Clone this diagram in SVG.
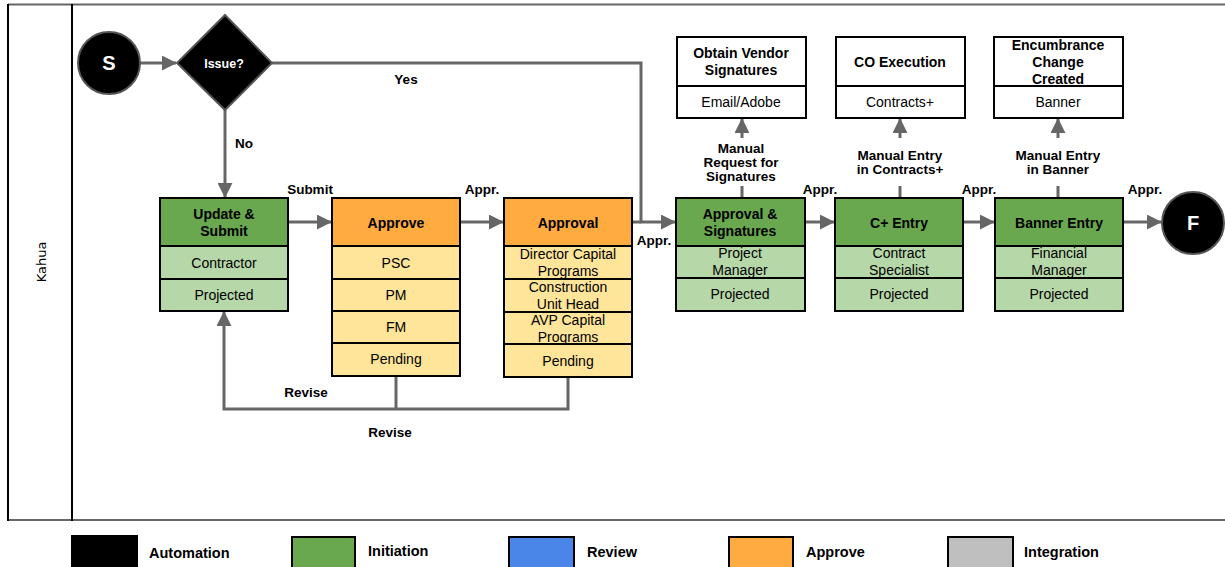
<svg xmlns="http://www.w3.org/2000/svg" width="1225" height="567" viewBox="0 0 1225 567">
<defs>
<style>
text{font-family:"Liberation Sans",Arial,sans-serif;fill:#000}
.b{font-weight:bold;font-size:14px}
.r{font-size:14px}
.l{font-weight:bold;font-size:13.5px}
.g{font-weight:bold;font-size:14.5px}
.w{fill:#fff;font-weight:bold}
.con{fill:none;stroke:#666;stroke-width:3}
.dg{fill:#6aa84f;stroke:#000;stroke-width:2}
.lg{fill:#b6d7a8;stroke:#000;stroke-width:2}
.or{fill:#ffab40;stroke:#000;stroke-width:2}
.ly{fill:#ffe599;stroke:#000;stroke-width:2}
.wh{fill:#fff;stroke:#000;stroke-width:2}
</style>
<marker id="ah" markerWidth="5" markerHeight="5" refX="4.7" refY="2.5" orient="auto" markerUnits="strokeWidth" viewBox="0 0 5 5">
<path d="M0,0 L5,2.5 L0,5 z" fill="#666"/>
</marker>
</defs>
<rect width="1225" height="567" fill="#fff"/>
<g id="lane">
<line x1="8" y1="4.5" x2="1225" y2="4.5" stroke="#666" stroke-width="2"/>
<line x1="8" y1="520" x2="1225" y2="520" stroke="#666" stroke-width="2"/>
<line x1="8" y1="4" x2="8" y2="521" stroke="#000" stroke-width="2"/>
<line x1="72" y1="4" x2="72" y2="521" stroke="#000" stroke-width="2"/>
<text transform="translate(46,262) rotate(-90)" text-anchor="middle" style="font-family:'DejaVu Sans',sans-serif;font-size:13px">Kahua</text>
</g>
<g id="connectors">
<line class="con" x1="140" y1="63" x2="176" y2="63" marker-end="url(#ah)"/>
<polyline class="con" points="272,63 641,63 641,222 675,222" marker-end="url(#ah)"/>
<line class="con" x1="225" y1="110" x2="225" y2="197" marker-end="url(#ah)"/>
<line class="con" x1="288" y1="222" x2="331" y2="222" marker-end="url(#ah)"/>
<line class="con" x1="460" y1="222" x2="503" y2="222" marker-end="url(#ah)"/>
<line class="con" x1="632" y1="222" x2="641" y2="222"/>
<line class="con" x1="805" y1="222" x2="834" y2="222" marker-end="url(#ah)"/>
<line class="con" x1="963" y1="222" x2="994" y2="222" marker-end="url(#ah)"/>
<line class="con" x1="1123" y1="222" x2="1161" y2="222" marker-end="url(#ah)"/>
<polyline class="con" points="396,376 396,409"/>
<polyline class="con" points="568,377 568,409 224,409 224,312" marker-end="url(#ah)"/>
<line class="con" x1="742" y1="198" x2="742" y2="186"/>
<line class="con" x1="742" y1="138" x2="742" y2="119" marker-end="url(#ah)"/>
<line class="con" x1="900" y1="198" x2="900" y2="186"/>
<line class="con" x1="900" y1="138" x2="900" y2="119" marker-end="url(#ah)"/>
<line class="con" x1="1058" y1="198" x2="1058" y2="186"/>
<line class="con" x1="1058" y1="138" x2="1058" y2="119" marker-end="url(#ah)"/>
<text class="l" x="406" y="84" text-anchor="middle">Yes</text>
<text class="l" x="244" y="148" text-anchor="middle">No</text>
<text class="l" x="310" y="194" text-anchor="middle">Submit</text>
<text class="l" x="482" y="194" text-anchor="middle">Appr.</text>
<text class="l" x="654" y="245" text-anchor="middle">Appr.</text>
<text class="l" x="820" y="194" text-anchor="middle">Appr.</text>
<text class="l" x="979" y="194" text-anchor="middle">Appr.</text>
<text class="l" x="1145" y="194" text-anchor="middle">Appr.</text>
<text class="l" x="306" y="397" text-anchor="middle">Revise</text>
<text class="l" x="390" y="437" text-anchor="middle">Revise</text>
<text class="l" x="741" y="153" text-anchor="middle">Manual</text>
<text class="l" x="741" y="167" text-anchor="middle">Request for</text>
<text class="l" x="741" y="181" text-anchor="middle">Signatures</text>
<text class="l" x="900" y="160" text-anchor="middle">Manual Entry</text>
<text class="l" x="900" y="174" text-anchor="middle">in Contracts+</text>
<text class="l" x="1058" y="160" text-anchor="middle">Manual Entry</text>
<text class="l" x="1058" y="174" text-anchor="middle">in Banner</text>
</g>
<g id="start">
<circle cx="109" cy="63" r="31" fill="#000" stroke="#555" stroke-width="2"/>
<text class="w" x="109" y="70" text-anchor="middle" style="font-size:20px">S</text>
</g>
<g id="issue">
<polygon points="225,15 272,63 225,110 177,63" fill="#000" stroke="#555" stroke-width="2"/>
<text class="w" x="224" y="68" text-anchor="middle" style="font-size:12.5px">Issue?</text>
</g>
<g id="update-submit">
<rect class="dg" x="160" y="198" width="128" height="48"/>
<rect class="lg" x="160" y="246" width="128" height="33"/>
<rect class="lg" x="160" y="279" width="128" height="32"/>
<text class="b" x="224" y="219" text-anchor="middle">Update &amp;</text>
<text class="b" x="224" y="236" text-anchor="middle">Submit</text>
<text class="r" x="224" y="268" text-anchor="middle">Contractor</text>
<text class="r" x="224" y="300" text-anchor="middle">Projected</text>
</g>
<g id="approve">
<rect class="or" x="332" y="198" width="128" height="48"/>
<rect class="ly" x="332" y="246" width="128" height="33"/>
<rect class="ly" x="332" y="279" width="128" height="32"/>
<rect class="ly" x="332" y="311" width="128" height="32"/>
<rect class="ly" x="332" y="343" width="128" height="33"/>
<text class="b" x="396" y="228" text-anchor="middle">Approve</text>
<text class="r" x="396" y="268" text-anchor="middle">PSC</text>
<text class="r" x="396" y="300" text-anchor="middle">PM</text>
<text class="r" x="396" y="332" text-anchor="middle">FM</text>
<text class="r" x="396" y="364" text-anchor="middle">Pending</text>
</g>
<g id="approval">
<rect class="or" x="504" y="198" width="128" height="48"/>
<rect class="ly" x="504" y="246" width="128" height="33"/>
<rect class="ly" x="504" y="279" width="128" height="33"/>
<rect class="ly" x="504" y="312" width="128" height="32"/>
<rect class="ly" x="504" y="344" width="128" height="33"/>
<text class="b" x="568" y="228" text-anchor="middle">Approval</text>
<text class="r" x="568" y="259" text-anchor="middle">Director Capital</text>
<text class="r" x="568" y="276" text-anchor="middle">Programs</text>
<text class="r" x="568" y="292" text-anchor="middle">Construction</text>
<text class="r" x="568" y="309" text-anchor="middle">Unit Head</text>
<text class="r" x="568" y="325" text-anchor="middle">AVP Capital</text>
<text class="r" x="568" y="342" text-anchor="middle">Programs</text>
<text class="r" x="568" y="366" text-anchor="middle">Pending</text>
</g>
<g id="approval-signatures">
<rect class="dg" x="676" y="198" width="129" height="48"/>
<rect class="lg" x="676" y="246" width="129" height="32"/>
<rect class="lg" x="676" y="278" width="129" height="33"/>
<text class="b" x="740" y="219" text-anchor="middle">Approval &amp;</text>
<text class="b" x="740" y="236" text-anchor="middle">Signatures</text>
<text class="r" x="740" y="258" text-anchor="middle">Project</text>
<text class="r" x="740" y="275" text-anchor="middle">Manager</text>
<text class="r" x="740" y="299" text-anchor="middle">Projected</text>
</g>
<g id="cplus-entry">
<rect class="dg" x="835" y="198" width="128" height="48"/>
<rect class="lg" x="835" y="246" width="128" height="32"/>
<rect class="lg" x="835" y="278" width="128" height="33"/>
<text class="b" x="899" y="228" text-anchor="middle">C+ Entry</text>
<text class="r" x="899" y="258" text-anchor="middle">Contract</text>
<text class="r" x="899" y="275" text-anchor="middle">Specialist</text>
<text class="r" x="899" y="299" text-anchor="middle">Projected</text>
</g>
<g id="banner-entry">
<rect class="dg" x="995" y="198" width="128" height="48"/>
<rect class="lg" x="995" y="246" width="128" height="32"/>
<rect class="lg" x="995" y="278" width="128" height="33"/>
<text class="b" x="1059" y="228" text-anchor="middle">Banner Entry</text>
<text class="r" x="1059" y="258" text-anchor="middle">Financial</text>
<text class="r" x="1059" y="275" text-anchor="middle">Manager</text>
<text class="r" x="1059" y="299" text-anchor="middle">Projected</text>
</g>
<g id="finish">
<circle cx="1193" cy="223" r="31" fill="#000" stroke="#555" stroke-width="2"/>
<text class="w" x="1193" y="230" text-anchor="middle" style="font-size:20px">F</text>
</g>
<g id="vendor-signatures">
<rect class="wh" x="677" y="37" width="129" height="49"/>
<rect class="wh" x="677" y="86" width="129" height="32"/>
<text class="b" x="741" y="58" text-anchor="middle">Obtain Vendor</text>
<text class="b" x="741" y="75" text-anchor="middle">Signatures</text>
<text class="r" x="741" y="107" text-anchor="middle">Email/Adobe</text>
</g>
<g id="co-execution">
<rect class="wh" x="836" y="37" width="129" height="49"/>
<rect class="wh" x="836" y="86" width="129" height="32"/>
<text class="b" x="900" y="67" text-anchor="middle">CO Execution</text>
<text class="r" x="900" y="107" text-anchor="middle">Contracts+</text>
</g>
<g id="encumbrance">
<rect class="wh" x="994" y="37" width="129" height="49"/>
<rect class="wh" x="994" y="86" width="129" height="32"/>
<text class="b" x="1058" y="50" text-anchor="middle">Encumbrance</text>
<text class="b" x="1058" y="67" text-anchor="middle">Change</text>
<text class="b" x="1058" y="84" text-anchor="middle">Created</text>
<text class="r" x="1058" y="107" text-anchor="middle">Banner</text>
</g>
<g id="legend">
<rect x="72" y="536" width="65" height="34" fill="#000" stroke="#000" stroke-width="2"/>
<text class="g" x="149" y="558">Automation</text>
<rect x="292" y="537" width="63" height="33" fill="#6aa84f" stroke="#000" stroke-width="2"/>
<text class="g" x="368" y="556">Initiation</text>
<rect x="509" y="537" width="65" height="33" fill="#4a86e8" stroke="#000" stroke-width="2"/>
<text class="g" x="587" y="557">Review</text>
<rect x="729" y="537" width="64" height="33" fill="#ffab40" stroke="#000" stroke-width="2"/>
<text class="g" x="806" y="557">Approve</text>
<rect x="948" y="537" width="65" height="33" fill="#bfbfbf" stroke="#000" stroke-width="2"/>
<text class="g" x="1024" y="557">Integration</text>
</g>
</svg>
